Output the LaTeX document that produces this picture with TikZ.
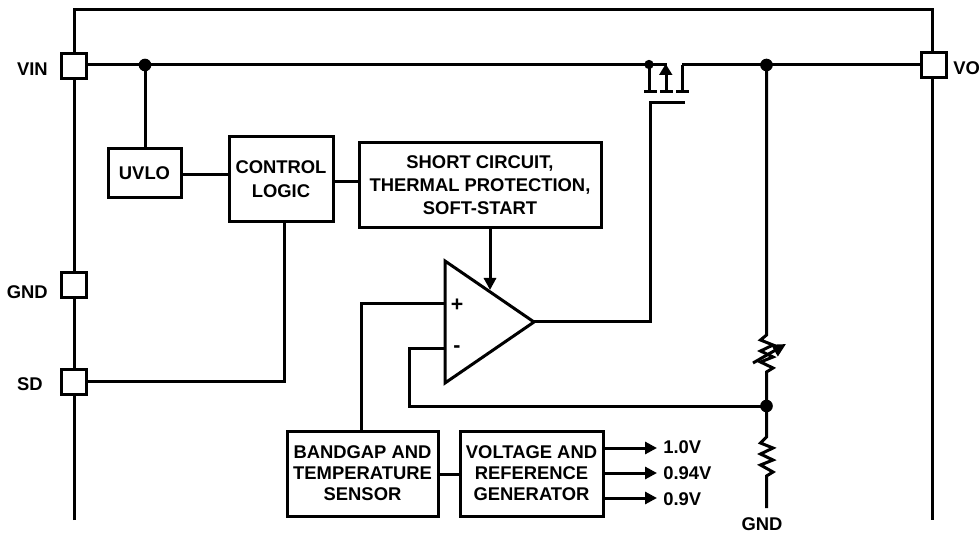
\documentclass[tikz,border=0pt]{standalone}
\usepackage{fontspec}
\setmainfont{Liberation Sans}
\usetikzlibrary{arrows.meta}
\tikzset{
  wire/.style={line width=2.25pt,line cap=butt,line join=miter},
  lbl/.style={font=\fontsize{13.8}{17.25}\selectfont\bfseries,align=center,inner sep=0pt,text=black},
  blockbox/.style 2 args={draw,line width=2.25pt,fill=white,lbl,inner sep=0pt,minimum width=#1*0.75pt,minimum height=#2*0.75pt},
  pin/.style={draw,line width=2.25pt,fill=white,minimum width=25*0.75pt,minimum height=25*0.75pt,inner sep=0pt},
  bigdot/.style={circle,fill=black,inner sep=0pt,minimum size=9.5pt},
  smalldot/.style={circle,fill=black,inner sep=0pt,minimum size=7pt},
  flow/.style={wire,-{Triangle[length=9pt,width=9pt]}}
}
\begin{document}
\begin{tikzpicture}[x=0.75pt,y=-0.75pt]
\useasboundingbox (0,0) rectangle (980,548);
% frame corners
\coordinate (tl) at (74,10); \coordinate (tr) at (932,10);
\coordinate (bl) at (74,520); \coordinate (br) at (932,520);
\draw[wire] (bl) -- (tl) -- (tr) -- (br);
% pins
\node[pin] (vin) at (74,66) {};
\node[pin] (gndp) at (74,285) {};
\node[pin] (sd) at (74,381.5) {};
\node[pin] (vo) at (934,65.5) {};
\node[lbl,anchor=east] (vinl) at (48,69) {VIN};
\node[lbl,anchor=east] (gndl) at (48,292) {GND};
\node[lbl,anchor=east] (sdl) at (43,384) {SD};
\node[lbl,anchor=west] (vol) at (953,68) {VO};
% blocks
\node[blockbox={73}{49}] (uvlo) at (144.5,173.5) {UVLO};
\node[blockbox={104}{85}] (ctl) at (281,179.5) {CONTROL\\[0.6pt]LOGIC};
\node[blockbox={242}{85}] (scp) at (480,185.5) {SHORT CIRCUIT,\\THERMAL PROTECTION,\\SOFT-START};
\node[blockbox={151}{85}] (bg) at (362.5,473.5) {BANDGAP AND\\[-1.5pt]TEMPERATURE\\[-1.5pt]SENSOR};
\node[blockbox={143}{85}] (vg) at (531.5,473.5) {VOLTAGE AND\\[-1.5pt]REFERENCE\\[-1.5pt]GENERATOR};
% amplifier
\coordinate (a1) at (445,261); \coordinate (a2) at (445,383); \coordinate (aout) at (534,322);
\draw[wire] (a1) -- (aout) -- (a2) -- cycle;
\node[lbl,font=\fontsize{16}{16}\selectfont\bfseries] (plus) at (457,305) {+};
\node[lbl,font=\fontsize{16}{16}\selectfont\bfseries] (minus) at (457,349) {-};
% junctions and points
\coordinate (j1) at (145,65);
\coordinate (sdrop) at (649,64.5);
\coordinate (sbody) at (667,65);
\coordinate (drain) at (682,65);
\coordinate (j2) at (766.5,65);
\coordinate (r1t) at (766.5,335);
\coordinate (j3) at (766.5,406);
\coordinate (r2t) at (766.5,437);
\coordinate (gndend) at (766.5,508);
\coordinate (ag) at (490,290);
\coordinate (gate) at (685,103);
% wires
\draw[wire] (vin.east |- j1) -- (sbody);
\draw[wire] (drain) -- (vo.west |- drain);
\draw[wire] (j1) -- (uvlo.north -| j1);
\draw[wire] (uvlo.east |- 0,175) -- (ctl.west |- 0,175);
\draw[wire] (ctl.east |- 0,182) -- (scp.west |- 0,182);
\draw[wire] (ctl.south -| 284,0) -- (284,381) -- (sd.east |- 0,381);
\draw[flow] (scp.south -| ag) -- (ag);
\draw[wire] (aout) -- (650,322) -- (650,103) -- (gate);
\draw[wire] (445,304) -- (361,304) -- (bg.north -| 361,0);
\draw[wire] (445,349) -- (409.5,349) -- (409.5,406) -- (j3);
\draw[wire] (bg.east |- 0,474) -- (vg.west |- 0,474);
% MOSFET
\draw[wire] (649,65) -- (649,92);
\draw[wire] (644,92) -- (657,92);
\draw[wire] (660,92) -- (673,92);
\draw[wire] (676,92) -- (689,92);
\draw[wire] (682,92) -- (drain);
\draw[wire] (666,92) -- (666,75);
\fill (659,75) -- (672.5,75) -- (665.7,64) -- cycle;
% resistors
\draw[wire] (j2) -- (r1t) -- (760.5,340) -- (773,345) -- (760.5,351) -- (773,357) -- (760.5,362) -- (773,368) -- (766.5,372) -- (j3) -- (r2t)
  -- (760.5,443) -- (773,448) -- (760.5,454) -- (773,460) -- (760.5,465) -- (773,472) -- (766.5,476) -- (gndend);
\draw[wire,-{Triangle[length=10pt,width=9.5pt]}] (753,363) -- (786,344);
\node[lbl] (gndr) at (762,524) {GND};
% outputs
\draw[flow] (vg.east |- 0,448) -- (657,448);
\draw[flow] (vg.east |- 0,473) -- (657,473);
\draw[flow] (vg.east |- 0,498) -- (657,498);
\node[lbl,anchor=west] (v1) at (663,447) {1.0V};
\node[lbl,anchor=west] (v2) at (663,473) {0.94V};
\node[lbl,anchor=west] (v3) at (663,499) {0.9V};
% dots
\node[bigdot] at (j1) {};
\node[smalldot] at (sdrop) {};
\node[bigdot] at (j2) {};
\node[bigdot] at (j3) {};
\end{tikzpicture}
\end{document}
